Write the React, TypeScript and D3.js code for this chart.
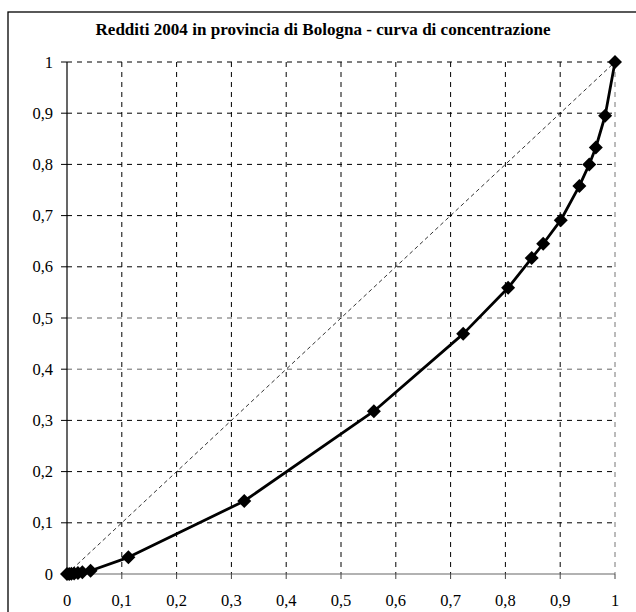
import React from "react";
import * as d3 from "d3";

const xValues = [0, 0.004, 0.008, 0.013, 0.02, 0.028, 0.043, 0.112, 0.3235, 0.56, 0.723, 0.805, 0.848, 0.869, 0.901, 0.935, 0.953, 0.965, 0.982, 1];
const yValues = [0, 0.0002, 0.0005, 0.001, 0.002, 0.0035, 0.0064, 0.0326, 0.1426, 0.318, 0.469, 0.559, 0.617, 0.645, 0.691, 0.758, 0.8, 0.833, 0.895, 1];
const ticks = [0, 0.1, 0.2, 0.3, 0.4, 0.5, 0.6, 0.7, 0.8, 0.9, 1];
const title = "Redditi 2004 in provincia di Bologna - curva di concentrazione";

const fmt = (v: number) => (Math.round(v * 10) / 10).toString().replace(".", ",");

export default function App() {
  const W = 636, H = 612;
  const x = d3.scaleLinear().domain([0, 1]).range([67, 615]);
  const y = d3.scaleLinear().domain([0, 1]).range([574, 62]);
  const pts = xValues.map((v, i) => [v, yValues[i]] as [number, number]);
  const line = d3.line<[number, number]>().x(d => x(d[0])).y(d => y(d[1]));
  const font = "'Liberation Serif', 'Times New Roman', Times, serif";
  const s = 7;
  return (
    <svg width={W} height={H} style={{ position: "absolute", left: 0, top: 0, background: "#fff" }}>
      <rect x={8} y={12} width={W + 20} height={H + 20} fill="#fff" stroke="#000" strokeWidth={1.3} />
      <text x={323} y={35} textAnchor="middle" fontFamily={font} fontWeight="bold" fontSize={16.8} fill="#000" textLength={455} lengthAdjust="spacingAndGlyphs">{title}</text>
      {ticks.slice(1).map(t => (
        <line key={"gx" + t} x1={x(t)} x2={x(t)} y1={y(1)} y2={y(0)} stroke={t === 1 ? "#777" : "#000"} strokeWidth={1} strokeDasharray="5,5" />
      ))}
      {ticks.slice(1).map(t => (
        <line key={"gy" + t} x1={x(0)} x2={x(1)} y1={y(t)} y2={y(t)} stroke={t === 0.5 || t === 0.4 ? "#666" : "#000"} strokeWidth={1} strokeDasharray="5,5" />
      ))}
      <line x1={x(0)} x2={x(1)} y1={y(0)} y2={y(1)} stroke="#000" strokeWidth={0.8} strokeDasharray="4,3" />
      <line x1={x(0)} x2={x(1)} y1={y(0)} y2={y(0)} stroke="#666" strokeWidth={1.2} />
      <line x1={x(0)} x2={x(0)} y1={y(0)} y2={y(1)} stroke="#000" strokeWidth={1.2} />
      {ticks.map(t => (
        <g key={"t" + t}>
          <line x1={x(t)} x2={x(t)} y1={y(0)} y2={y(0) + 5} stroke="#444" strokeWidth={1} />
          <text x={x(t)} y={y(0) + 32} textAnchor="middle" fontFamily={font} fontSize={16.5} fill="#000">{fmt(t)}</text>
          <line x1={x(0) - 6} x2={x(0)} y1={y(t)} y2={y(t)} stroke="#000" strokeWidth={1} />
          <text x={x(0) - 14} y={y(t) + 5.5} textAnchor="end" fontFamily={font} fontSize={16.5} fill="#000">{fmt(t)}</text>
        </g>
      ))}
      <path d={line(pts) || ""} fill="none" stroke="#000" strokeWidth={2.8} strokeLinejoin="round" />
      {pts.map((p, i) => (
        <path key={"m" + i} d={`M${x(p[0])},${y(p[1]) - s}L${x(p[0]) + s},${y(p[1])}L${x(p[0])},${y(p[1]) + s}L${x(p[0]) - s},${y(p[1])}Z`} fill="#000" />
      ))}
    </svg>
  );
}
